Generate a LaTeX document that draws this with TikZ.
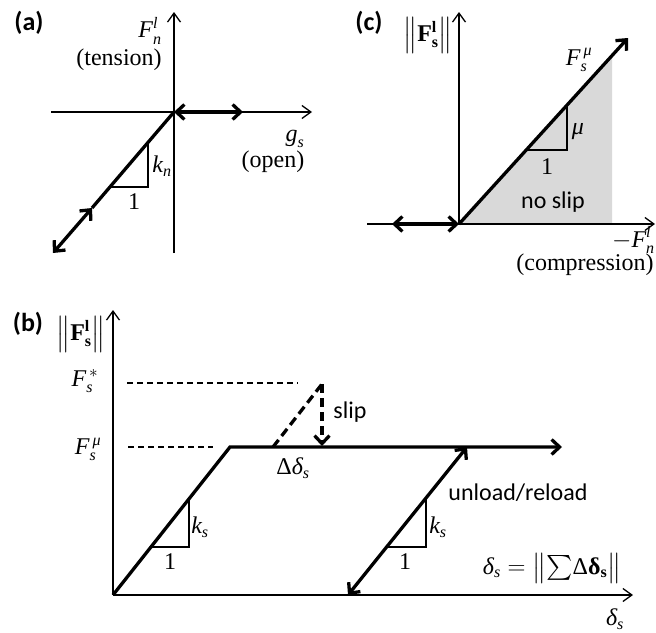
\documentclass[tikz,border=0pt]{standalone}
\usepackage{amsmath}
\usepackage{graphicx}
\usepackage{fontspec}
\setmainfont{Liberation Serif}
\newfontfamily\carl{Carlito}
\usetikzlibrary{arrows.meta,calc}
\DeclareMathSizes{24}{24}{16}{12}
\newcommand{\ti}[1]{\text{\itshape #1}}
\newcommand{\tb}[1]{\text{\bfseries #1}}
\newcommand{\tallbars}{\mathord{\raisebox{-1pt}{\scalebox{1}[1.2]{$\big\|$}}}}
\tikzset{
  ax/.style={line width=1.3pt, -{Straight Barb[length=9pt,width=13pt]}},
  lthin/.style={line width=1.2pt},
  thk/.style={line width=3.3pt},
  thkarr/.style={thk, -{Straight Barb[length=8pt,width=15pt]}},
  thkboth/.style={thk, {Straight Barb[length=8pt,width=15pt]}-{Straight Barb[length=8pt,width=15pt]}},
  thindash/.style={lthin, dash pattern=on 6pt off 4pt},
  thkdash/.style={thk, dash pattern=on 9pt off 5pt},
  lab/.style={inner sep=0pt, font=\fontsize{24}{28}\selectfont},
  slab/.style={inner sep=0pt, font=\fontsize{24}{28}\selectfont\carl},
  panel/.style={inner sep=0pt, font=\fontsize{26}{30}\selectfont\carl\bfseries},
}
\begin{document}
\begin{tikzpicture}[x=1pt,y=-1pt]
\useasboundingbox (0,0) rectangle (656,632);
% ---------------- panel (a)
\coordinate (Oa) at (174,112);
\coordinate (aL) at (51,112);
\coordinate (aR) at (312,112);
\coordinate (aT) at (174,12);
\coordinate (aB) at (174,253);
\coordinate (aE) at (53,253);
\coordinate (aM) at (92,208);
\coordinate (aG) at (243,112);
\coordinate (aT1) at (110,187);
\coordinate (aT2) at (148,187);
\coordinate (aT3) at (148,143);
\draw[ax] (aL) -- (aR);
\draw[ax] (aB) -- (aT);
\draw[lthin] (aT1) -- (aT2) -- (aT3);
\draw[thk] (Oa) -- (aM);
\draw[thkboth] (aE) -- (aM);
\draw[thkboth] (Oa) -- (aG);
\node[panel] (pa) at (29,23) {(a)};
\node[lab] (aFn) at (150,31) {$\ti{F}_{\ti{n}}^{\ti{l}}$};
\node[lab] (aten) at (119,60) {(tension)};
\node[lab] (ags) at (295,139) {$\ti{g}_{\ti{s}}$};
\node[lab] (aopen) at (273,162) {(open)};
\node[lab] (akn) at (162,166) {$\ti{k}_{\ti{n}}$};
\node[lab] (aone) at (134,202) {1};
% ---------------- panel (c)
\coordinate (Oc) at (459,224);
\coordinate (cT) at (459,12);
\coordinate (cL) at (367,224);
\coordinate (cR) at (655,224);
\coordinate (cA) at (628,38);
\coordinate (cF) at (612,55.6);
\coordinate (cG) at (612,224);
\coordinate (cD) at (392,224);
\coordinate (cT1) at (527,150);
\coordinate (cT2) at (567,150);
\coordinate (cT3) at (567,105);
\fill[black!15] (Oc) -- (cF) -- (cG) -- cycle;
\draw[ax] (cL) -- (cR);
\draw[ax] (Oc) -- (cT);
\draw[lthin] (cT1) -- (cT2) -- (cT3);
\draw[thkarr] (Oc) -- (cA);
\draw[thkboth] (cD) -- (Oc);
\node[panel] (pc) at (369,23) {(c)};
\node[lab] (cFs) at (428,35) {$\tallbars\tb{F}_{\tb{s}}^{\tb{l}}\tallbars$};
\node[lab] (cFmu) at (579,60) {$\ti{F}_{\ti{s}}^{\,\ti{μ}}$};
\node[lab] (cmu) at (578,132) {$\ti{μ}$};
\node[lab] (cone) at (547,167) {1};
\node[slab] (cns) at (553,202) {no slip};
\node[lab, anchor=west] (cFn) at (612,240) {$-\ti{F}_{\ti{n}}^{\ti{l}}$};
\node[lab] (ccomp) at (585,265) {(compression)};
% ---------------- panel (b)
\coordinate (Ob) at (113,595);
\coordinate (bT) at (113,310);
\coordinate (bR) at (633,595);
\coordinate (bC) at (230,447);
\coordinate (bE) at (562,447);
\coordinate (bT1) at (151,547);
\coordinate (bT2) at (189,547);
\coordinate (bT3) at (189,499);
\coordinate (bD1) at (127,383);
\coordinate (bD2) at (298,383);
\coordinate (bD3) at (128,447);
\coordinate (bD4) at (213,447);
\coordinate (bS1) at (273,447);
\coordinate (bS2) at (322,384);
\coordinate (bS3) at (322,446);
\coordinate (bU1) at (348,595);
\coordinate (bU2) at (467,447);
\coordinate (bV1) at (387,547);
\coordinate (bV2) at (426,547);
\coordinate (bV3) at (426,498);
\draw[ax] (Ob) -- (bT);
\draw[ax] (Ob) -- (bR);
\draw[thindash] (bD1) -- (bD2);
\draw[thindash] (bD3) -- (bD4);
\draw[lthin] (bT1) -- (bT2) -- (bT3);
\draw[lthin] (bV1) -- (bV2) -- (bV3);
\draw[thkarr] (Ob) -- (bC) -- (bE);
\draw[thkdash] (bS1) -- (bS2);
\draw[thkdash, -{Straight Barb[length=8pt,width=15pt]}] (bS2) -- (bS3);
\draw[thkboth] (bU1) -- (bU2);
\node[panel] (pb) at (28,324) {(b)};
\node[lab] (bFs) at (81,334) {$\tallbars\tb{F}_{\tb{s}}^{\tb{l}}\tallbars$};
\node[lab] (bFstar) at (85,381) {$\ti{F}_{\ti{s}}^{\,*}$};
\node[lab] (bFmu) at (88,449) {$\ti{F}_{\ti{s}}^{\,\ti{μ}}$};
\node[lab] (bdd) at (293,468) {$\text{Δ}\ti{δ}_{\ti{s}}$};
\node[slab] (bslip) at (350,412) {slip};
\node[lab] (bks) at (200,527) {$\ti{k}_{\ti{s}}$};
\node[lab] (bone) at (170,562) {1};
\node[lab] (bks2) at (438,527) {$\ti{k}_{\ti{s}}$};
\node[lab] (bone2) at (405,562) {1};
\node[slab] (bun) at (518,493) {unload/reload};
\node[lab] (bform) at (552,568) {$\ti{δ}_{\ti{s}} = \big\|{\textstyle\sum} \text{Δ}\tb{δ}_{\tb{s}}\big\|$};
\node[lab] (bds) at (615,619) {$\ti{δ}_{\ti{s}}$};
\end{tikzpicture}
\end{document}
